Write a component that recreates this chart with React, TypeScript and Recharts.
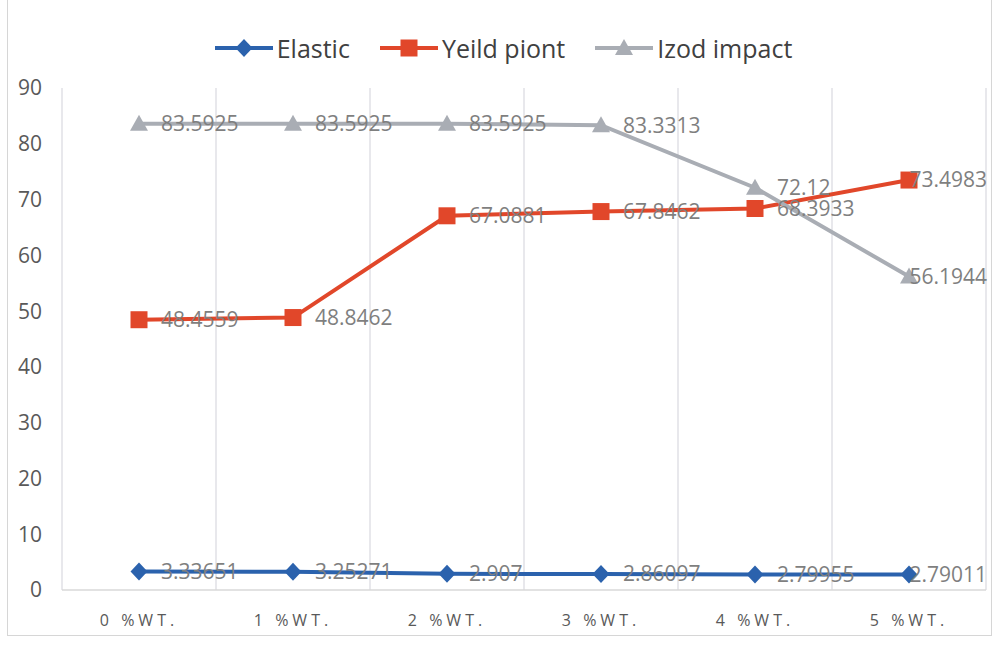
import React from 'react';
import { CartesianGrid, LabelList, Line, LineChart, XAxis, YAxis } from 'recharts';

// valores (rótulos de dados)
const categories = ['0 %WT.', '1 %WT.', '2 %WT.', '3 %WT.', '4 %WT.', '5 %WT.'];
const elastic = [3.33651, 3.25271, 2.907, 2.86097, 2.79955, 2.79011];
const yieldPoint = [48.4559, 48.8462, 67.0881, 67.8462, 68.3933, 73.4983];
const izodImpact = [83.5925, 83.5925, 83.5925, 83.3313, 72.12, 56.1944];
const yTicks = [0, 10, 20, 30, 40, 50, 60, 70, 80, 90];
const gridTicks = [0, 1, 2, 3, 4, 5, 6];

const data = categories.map((name, i) => ({
  name,
  pos: i + 0.5,
  elastic: elastic[i],
  yieldPoint: yieldPoint[i],
  izod: izodImpact[i],
}));

type Shape = 'diamond' | 'square' | 'triangle';

const series: { key: string; name: string; color: string; shape: Shape }[] = [
  { key: 'elastic', name: 'Elastic', color: '#2b62ad', shape: 'diamond' },
  { key: 'yieldPoint', name: 'Yeild piont', color: '#e1472a', shape: 'square' },
  { key: 'izod', name: 'Izod impact', color: '#a9adb4', shape: 'triangle' },
];

const FONT = '"Open Sans", "DejaVu Sans", sans-serif';
const W = 997;
const H = 648;
const LABEL_LIMIT = W - 10; // os rótulos não passam da borda do gráfico

const markerPath = (shape: Shape, cx: number, cy: number) => {
  if (shape === 'diamond') return `M${cx},${cy - 9} L${cx + 8.5},${cy} L${cx},${cy + 9} L${cx - 8.5},${cy} Z`;
  if (shape === 'square') return `M${cx - 8.5},${cy - 8.5} h17 v17 h-17 Z`;
  return `M${cx},${cy - 9} L${cx + 9},${cy + 7} L${cx - 9},${cy + 7} Z`;
};

const makeDot = (shape: Shape, color: string) => (props: any) => {
  const { cx, cy, index } = props;
  if (cx == null || cy == null) return <g key={`n-${index}`} />;
  return <path key={`${shape}-${index}`} d={markerPath(shape, cx, cy)} fill={color} />;
};

// rótulo à direita do ponto; empurrado para dentro quando não cabe
const DataLabel = (props: any) => {
  const { x, y, value } = props;
  if (x == null || y == null) return null;
  const text = String(value);
  const approxWidth = text.length * 11.6;
  const start = x + 22;
  const overflow = start + approxWidth > LABEL_LIMIT;
  return (
    <text
      x={overflow ? LABEL_LIMIT : start}
      y={y}
      dy="0.35em"
      textAnchor={overflow ? 'end' : 'start'}
      fill="#7f7f7f"
      fontSize={21}
      fontFamily={FONT}
    >
      {text}
    </text>
  );
};

const ChartLegend = () => (
  <div
    style={{
      position: 'absolute',
      top: 31,
      left: 0,
      width: W,
      display: 'flex',
      justifyContent: 'center',
      paddingLeft: 40,
      boxSizing: 'border-box',
      fontFamily: FONT,
      fontSize: 25,
      color: '#404040',
    }}
  >
    {series.map((s) => (
      <div key={s.key} style={{ display: 'flex', alignItems: 'center', marginRight: 30 }}>
        <svg width={58} height={34} style={{ marginRight: 4 }}>
          <line x1={0} y1={17} x2={58} y2={17} stroke={s.color} strokeWidth={4} />
          <path d={markerPath(s.shape, 29, 17)} fill={s.color} />
        </svg>
        <span>{s.name}</span>
      </div>
    ))}
  </div>
);

export default function App() {
  return (
    <div style={{ position: 'absolute', left: 0, top: 0, width: W, height: H, background: '#fff', overflow: 'hidden' }}>
      <div
        style={{
          position: 'absolute',
          left: 7,
          top: -2,
          width: 985,
          height: 638,
          border: '1.5px solid #d6d6d6',
          boxSizing: 'border-box',
        }}
      />
      <ChartLegend />
      <LineChart
        width={W}
        height={H}
        data={data}
        margin={{ top: 88, right: 11, bottom: 8, left: 12 }}
        style={{ position: 'absolute', left: 0, top: 0 }}
      >
        <XAxis xAxisId="grid" type="number" dataKey="pos" domain={[0, 6]} ticks={gridTicks} hide />
        <CartesianGrid xAxisId="grid" horizontal={false} stroke="#d9d9e0" strokeWidth={1.2} />
        <XAxis
          dataKey="name"
          scale="band"
          axisLine={{ stroke: '#d9d9d9', strokeWidth: 1.5 }}
          tickLine={false}
          tickSize={0}
          tickMargin={25}
          height={50}
          tick={{ fill: '#595959', fontSize: 16, fontFamily: FONT, letterSpacing: 4 }}
        />
        <YAxis
          domain={[0, 90]}
          ticks={yTicks}
          axisLine={false}
          tickLine={false}
          tickSize={0}
          tickMargin={20}
          width={50}
          tick={{ fill: '#595959', fontSize: 21, fontFamily: FONT }}
        />
        {series.map((s) => (
          <Line
            key={s.key}
            dataKey={s.key}
            name={s.name}
            stroke={s.color}
            strokeWidth={4}
            dot={makeDot(s.shape, s.color)}
            activeDot={false}
            isAnimationActive={false}
          >
            <LabelList dataKey={s.key} content={DataLabel} />
          </Line>
        ))}
      </LineChart>
    </div>
  );
}
